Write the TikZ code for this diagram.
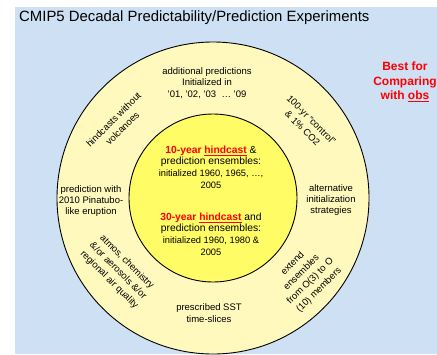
\documentclass[tikz,border=0pt]{standalone}
\usepackage{fontspec}
\setmainfont{Liberation Sans}
\definecolor{bgblue}{RGB}{206,224,243}
\definecolor{paleyel}{RGB}{255,249,190}
\definecolor{brightyel}{RGB}{255,252,102}
\definecolor{hotred}{RGB}{255,0,0}
\newcommand{\redhead}[1]{\textcolor{hotred}{\bfseries #1}}
\begin{document}
\begin{tikzpicture}[x=1pt,y=-1pt,
  ring/.style={circle,draw=black,line width=0.9pt,inner sep=0pt},
  lbl/.style={align=center,inner sep=0pt,font=\fontsize{9.5}{11.3}\selectfont},
  rlbl/.style={align=center,inner sep=0pt,font=\fontsize{9.5}{12.4}\selectfont},
  innertxt/.style={align=center,inner sep=0pt,font=\fontsize{10.3}{11.6}\selectfont},
  besttxt/.style={align=center,inner sep=0pt,text=hotred,font=\bfseries\fontsize{12}{14.5}\selectfont},
  titletxt/.style={anchor=base west,inner sep=0pt,font=\fontsize{14.9}{17}\selectfont}]
\useasboundingbox (0,0) rectangle (437,354);
\fill[bgblue] (15,7) rectangle (437,354);
\node[titletxt] (title) at (19,21) {CMIP5 Decadal Predictability/Prediction Experiments};
\node[besttxt] (best) at (405,82) {Best for\\Comparing\\with \underline{obs}};
\node[ring,fill=paleyel,minimum size=312pt] (outer) at (213,198) {};
\node[ring,fill=brightyel,minimum size=168pt] (inner) at (213,198) {};
\node[lbl] (addl) at (207,83) {additional predictions\\Initialized in\\’01, ’02, ’03 \ … ’09};
\node[rlbl,rotate=45] (hind) at (118,124) {hindcasts without\\volcanoes};
\node[rlbl,rotate=-45] (ctrl) at (307,124) {100-yr “control”\\\& 1\% CO2};
\node[lbl] (pina) at (91,201) {prediction with\\2010 Pinatubo-\\like eruption};
\node[lbl] (alt) at (331,200) {alternative\\initialization\\strategies};
\node[rlbl,rotate=-45] (atmos) at (118,271) {atmos, chemistry\\\&/or aerosols \&/or\\regional air quality};
\node[lbl] (sst) at (209,313) {prescribed SST\\time-slices};
\node[rlbl,rotate=45] (ext) at (306,277) {extend\\ensembles\\from O(3) to O\\(10) members};
\node[innertxt] (ten) at (211,167) {\redhead{10-year \underline{hindcast}} \&\\prediction ensembles:\\{\fontsize{9.3}{11}\selectfont initialized 1960, 1965, …,}\\{\fontsize{9.3}{11}\selectfont 2005}};
\node[innertxt] (thirty) at (211,234) {\redhead{30-year \underline{hindcast}} and\\prediction ensembles:\\{\fontsize{9.3}{11}\selectfont initialized 1960, 1980 \&}\\{\fontsize{9.3}{11}\selectfont 2005}};
\end{tikzpicture}
\end{document}
